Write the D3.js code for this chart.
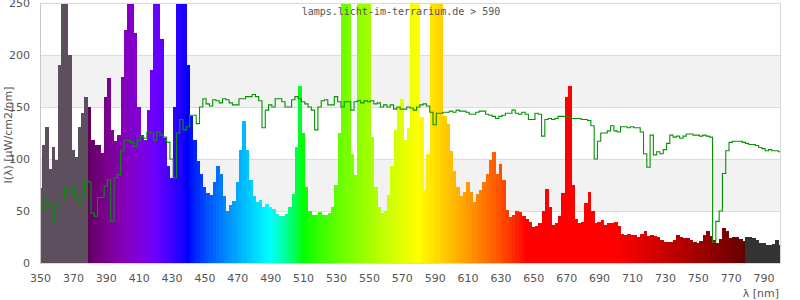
<!DOCTYPE html>
<html><head><meta charset="utf-8">
<script src="https://cdn.jsdelivr.net/npm/d3@7"></script>
<style>
body{margin:0;background:#fff;}
svg{display:block;font-family:"DejaVu Sans",sans-serif;}
</style></head>
<body><svg id="c" width="800" height="300"></svg>
<script>
const wavelengths = [350,352,354,356,358,360,362,364,366,368,370,372,374,376,378,380,382,384,386,388,390,392,394,396,398,400,402,404,406,408,410,412,414,416,418,420,422,424,426,428,430,432,434,436,438,440,442,444,446,448,450,452,454,456,458,460,462,464,466,468,470,472,474,476,478,480,482,484,486,488,490,492,494,496,498,500,502,504,506,508,510,512,514,516,518,520,522,524,526,528,530,532,534,536,538,540,542,544,546,548,550,552,554,556,558,560,562,564,566,568,570,572,574,576,578,580,582,584,586,588,590,592,594,596,598,600,602,604,606,608,610,612,614,616,618,620,622,624,626,628,630,632,634,636,638,640,642,644,646,648,650,652,654,656,658,660,662,664,666,668,670,672,674,676,678,680,682,684,686,688,690,692,694,696,698,700,702,704,706,708,710,712,714,716,718,720,722,724,726,728,730,732,734,736,738,740,742,744,746,748,750,752,754,756,758,760,762,764,766,768,770,772,774,776,778,780,782,784,786,788,790,792,794,796,798,800];

// lamp spectrum (bars)
const lampValues = [72,113,131,90,112,99,190,300,300,200,109,102,131,144,160,150,118,113,113,106,160,178,128,117,123,179,224,300,300,221,150,123,118,147,186,300,300,215,120,93,82,150,300,300,280,190,141,118,98,86,73,67,65,78,93,86,64,50,56,60,78,109,137,109,80,64,59,61,54,57,54,52,47,45,45,47,54,66,112,170,125,73,50,46,46,49,46,46,48,54,75,125,260,300,270,105,85,260,300,300,280,121,73,54,48,50,65,93,128,150,158,118,130,300,300,300,140,70,105,290,300,300,250,141,134,108,88,73,64,68,78,68,59,66,70,78,86,99,107,86,95,80,51,44,46,50,49,45,42,39,35,36,38,50,71,54,37,38,45,67,160,170,75,42,38,39,58,68,50,38,39,41,37,38,38,39,36,28,27,28,27,27,25,28,31,26,27,26,25,22,20,20,20,22,27,25,24,24,22,20,19,21,27,31,26,22,19,23,34,31,24,25,25,23,21,25,25,24,22,19,19,17,17,18,22,17];

// reference spectrum (green line)
const referenceValues = [55,50,60,55,41,57,55,61,72,67,73,64,55,65,80,78,48,45,63,63,74,80,40,82,85,108,118,118,116,112,118,122,120,126,125,118,126,123,121,116,100,82,125,138,128,131,142,142,134,150,158,153,151,157,156,154,158,157,154,152,152,158,158,160,160,162,160,156,130,147,152,150,158,158,155,150,150,157,160,158,155,153,150,147,128,150,156,157,152,152,160,155,150,155,155,147,155,156,154,156,155,156,153,154,150,152,150,152,148,150,148,148,150,149,147,150,152,153,151,145,133,144,144,145,145,146,145,147,146,146,145,143,143,145,146,146,143,142,141,139,141,142,144,144,147,144,143,145,143,138,138,144,143,122,138,139,138,139,141,141,141,140,139,139,139,138,138,137,132,100,117,125,125,127,132,127,126,131,131,130,131,130,130,126,105,92,123,104,107,105,109,115,123,121,122,120,122,124,124,123,123,122,123,122,121,20,40,50,86,108,116,117,117,117,116,115,114,114,113,111,110,108,109,108,108,107];

const xTicks = [350,370,390,410,430,450,470,490,510,530,550,570,590,610,630,650,670,690,710,730,750,770,790];
const yTicks = [0,50,100,150,200,250];
const titleText = "lamps.licht-im-terrarium.de > 590";
const yLabel = "I(λ) [μW/cm2/nm]";
const xLabel = "λ [nm]";

const svg = d3.select("#c");
const x = d3.scaleLinear().domain([350,800]).range([40,780]);
const y = d3.scaleLinear().domain([0,250]).range([263,3]);

// wavelength -> colour (Bruton style)
function specColor(w){
  if (w < 380) return "#5d4f5e";
  if (w >= 780) return "#333333";
  let r=0,g=0,b=0;
  if (w<440){r=-(w-440)/60;b=1;}
  else if(w<490){g=(w-440)/50;b=1;}
  else if(w<510){g=1;b=-(w-510)/20;}
  else if(w<580){r=(w-510)/70;g=1;}
  else if(w<645){r=1;g=-(w-645)/65;}
  else {r=1;}
  let f=1;
  if (w<420) f=0.3+0.7*(w-380)/40;
  else if (w>700) f=0.3+0.7*(780-w)/80;
  const c=v=> v===0?0:Math.round(255*Math.pow(v*f,0.8));
  return `rgb(${c(r)},${c(g)},${c(b)})`;
}

// bands
const bands=[[50,100],[150,200]];
svg.append("g").selectAll("rect").data(bands).join("rect")
  .attr("x",x(350)).attr("width",x(800)-x(350))
  .attr("y",d=>y(d[1])).attr("height",d=>y(d[0])-y(d[1]))
  .attr("fill","#f2f2f2");
// grid
svg.append("g").selectAll("line").data(yTicks.filter(t=>t>0)).join("line")
  .attr("x1",x(350)).attr("x2",x(800))
  .attr("y1",d=>y(d)+0.5).attr("y2",d=>y(d)+0.5)
  .attr("stroke","#dcdcdc").attr("stroke-width",1);

svg.append("clipPath").attr("id","clip").append("rect")
  .attr("x",x(350)).attr("y",y(250)).attr("width",x(800)-x(350)).attr("height",y(0)-y(250));

const data = wavelengths.map((w,i)=>({w,v:lampValues[i],r:referenceValues[i]}));

svg.append("g").attr("clip-path","url(#clip)").selectAll("rect").data(data).join("rect")
  .attr("x",d=>x(d.w-1)).attr("width",d=>x(d.w+1)-x(d.w-1)+0.4)
  .attr("y",d=>y(d.v)).attr("height",d=>y(0)-y(d.v))
  .attr("fill",d=>specColor(d.w))
  .attr("shape-rendering","crispEdges");

const line = d3.line().x(d=>x(d.w)).y(d=>y(d.r)).curve(d3.curveStep);
svg.append("path").datum(data).attr("clip-path","url(#clip)")
  .attr("d",line).attr("fill","none").attr("stroke","#079107").attr("stroke-width",1.1);

// frame
svg.append("rect").attr("x",x(350)+0.5).attr("y",y(250)+0.5)
  .attr("width",x(800)-x(350)).attr("height",y(0)-y(250))
  .attr("fill","none").attr("stroke","#d8d8d8");
svg.append("line").attr("x1",x(350)+0.5).attr("x2",x(350)+0.5).attr("y1",y(250)).attr("y2",y(0)+1)
  .attr("stroke","#c8c8c8");

// axes
const ya = svg.append("g").attr("transform",`translate(${x(350)},0)`)
  .call(d3.axisLeft(y).tickValues(yTicks).tickSize(0).tickPadding(10));
ya.select(".domain").remove();
const xa = svg.append("g").attr("transform",`translate(0,${y(0)})`)
  .call(d3.axisBottom(x).tickValues(xTicks).tickSize(0).tickPadding(11));
xa.select(".domain").remove();
svg.selectAll(".tick text").attr("font-family","DejaVu Sans").attr("font-size",11).attr("fill","#555");

svg.append("text").attr("x",401).attr("y",15).attr("text-anchor","middle")
  .attr("font-family","DejaVu Sans Mono").attr("font-size",10).attr("fill","#555").text(titleText);
svg.append("text").attr("transform","translate(12,135) rotate(-90)").attr("text-anchor","middle")
  .attr("font-size",11).attr("fill","#555").text(yLabel);
svg.append("text").attr("x",779).attr("y",297).attr("text-anchor","end")
  .attr("font-size",11).attr("fill","#555").text(xLabel);
</script></body></html>
